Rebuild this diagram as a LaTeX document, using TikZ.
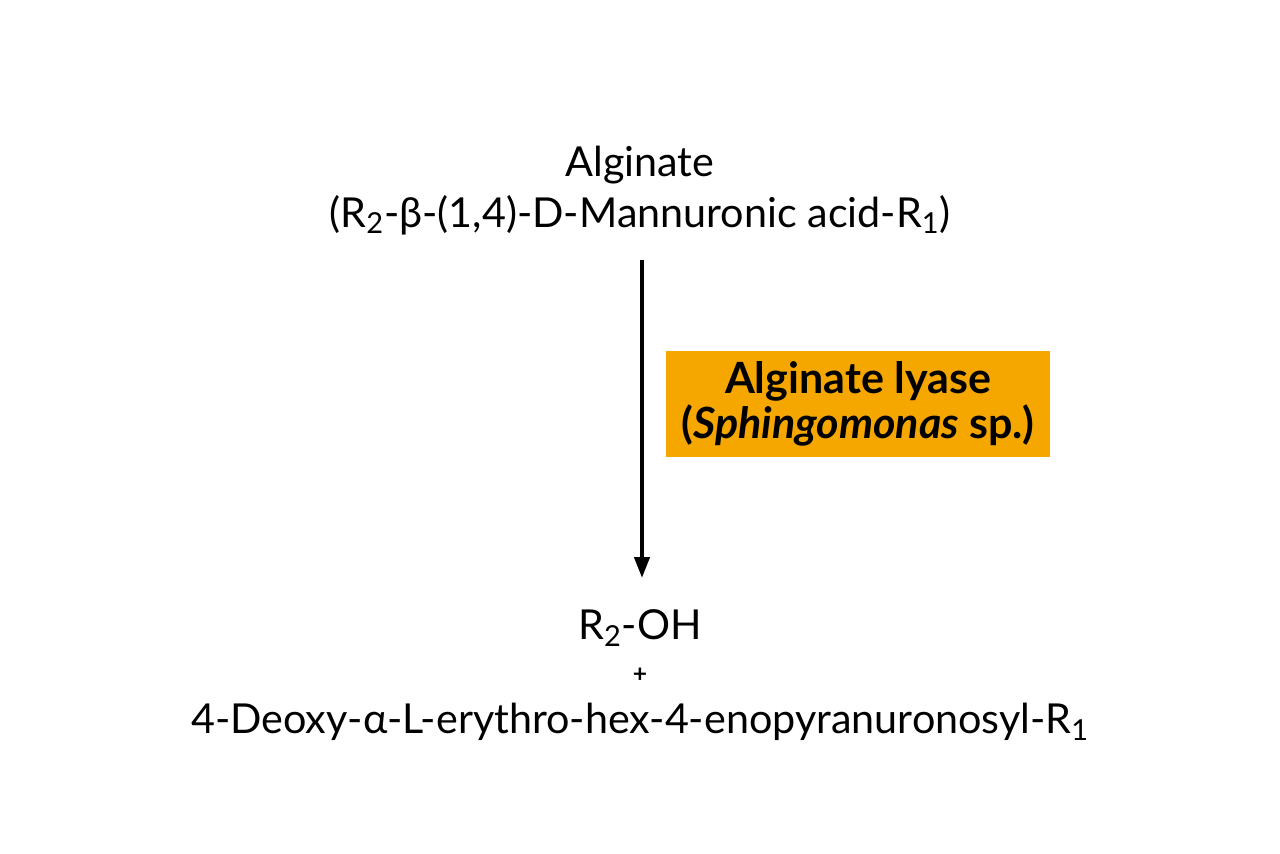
\documentclass[tikz,border=0pt]{standalone}
\usepackage{fontspec}
\setmainfont{Lato}
\usetikzlibrary{arrows.meta}
\definecolor{lyaseorange}{HTML}{F5A700}
\tikzset{
  chem/.style={font=\fontsize{23.5}{28}\selectfont, align=center, inner sep=0pt},
  enzymebox/.style={fill=lyaseorange, minimum width=7.68cm, minimum height=2.12cm,
    align=center, font=\fontsize{24.5}{25.5}\selectfont\bfseries},
}
\begin{document}
\begin{tikzpicture}[x=0.02cm,y=-0.02cm]
    \useasboundingbox (0,0) rectangle (1280,853);
    
    \node[chem] (alginate) at (640,165) {Alginate};
    \node[chem] (substrate) at (640,215) {(R\textsubscript{2}-β-(1,4)-D-Mannuronic acid-R\textsubscript{1})};
    
    \coordinate (start) at (642,260);
    \coordinate (stop) at (642,578);
    \draw[line width=2.4pt, -{Triangle[length=0.42cm,width=0.3cm]}] (start) -- (stop);
    
    \node[enzymebox] (enzyme) at (858,404) {Alginate lyase\\(\textit{Sphingomonas} sp.)};
    
    \node[chem] (product1) at (640,628) {R\textsubscript{2}-OH};
    \node[chem, font=\fontsize{14}{16}\selectfont\bfseries] (plus) at (640,675) {+};
    \node[chem] (product2) at (640,722) {4-Deoxy-α-L-erythro-hex-4-enopyranuronosyl-R\textsubscript{1}};
    
\end{tikzpicture}
\end{document}
